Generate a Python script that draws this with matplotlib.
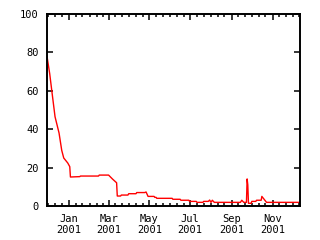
import numpy as np
import matplotlib
matplotlib.use("Agg")
import matplotlib.pyplot as plt
import matplotlib.dates as mdates
import pandas as pd

# values
dates = [
    "2000-11-29", "2000-12-03", "2000-12-06", "2000-12-11", "2000-12-17",
    "2000-12-21", "2000-12-24", "2000-12-30", "2001-01-02", "2001-01-03",
    "2001-01-17", "2001-01-18", "2001-02-14", "2001-02-15", "2001-03-01",
    "2001-03-07", "2001-03-13", "2001-03-14", "2001-03-19", "2001-03-20",
    "2001-03-30", "2001-03-31", "2001-04-11", "2001-04-12", "2001-04-24",
    "2001-04-26", "2001-04-29", "2001-05-08", "2001-05-09", "2001-05-11",
    "2001-05-12", "2001-06-04", "2001-06-05", "2001-06-16", "2001-06-17",
    "2001-06-29", "2001-06-30", "2001-07-10", "2001-07-11", "2001-07-20",
    "2001-07-21", "2001-07-28", "2001-07-30", "2001-08-01", "2001-08-03",
    "2001-08-06", "2001-09-14", "2001-09-16", "2001-09-19", "2001-09-23",
    "2001-09-24", "2001-09-25", "2001-09-26", "2001-09-30", "2001-10-01",
    "2001-10-07", "2001-10-08", "2001-10-15", "2001-10-16", "2001-10-23",
    "2001-12-12",
]
values = [
    78.0, 69.0, 60.5, 46.5, 38.0,
    29.0, 25.0, 22.4, 20.5, 15.1,
    15.3, 15.6, 15.6, 16.1, 16.1,
    14.0, 12.1, 5.2, 5.2, 5.7,
    5.7, 6.4, 6.4, 7.0, 7.0,
    7.3, 5.0, 5.0, 4.5, 4.5,
    4.0, 4.0, 3.5, 3.5, 3.0,
    3.0, 2.4, 2.4, 1.9, 1.9,
    2.4, 2.4, 3.1, 1.9, 3.0,
    1.9, 1.9, 3.0, 1.9, 1.9,
    14.1, 11.0, 1.4, 1.4, 2.4,
    2.4, 3.0, 3.0, 5.0, 1.9,
    1.9,
]
y_ticks = [0, 20, 40, 60, 80, 100]

x = pd.to_datetime(dates)

fig = plt.figure(figsize=(3.2, 2.4), dpi=100)
ax = fig.add_axes([47 / 320, 34 / 240, 253 / 320, 192 / 240])

ax.plot(x, values, color="red", linewidth=1.0)

ax.set_xlim(x[0], x[-1])
ax.set_ylim(0, 100)
ax.set_yticks(y_ticks)

ax.xaxis.set_major_locator(mdates.MonthLocator(bymonth=[1, 3, 5, 7, 9, 11]))
ax.xaxis.set_major_formatter(mdates.DateFormatter("%b\n%Y"))
ax.xaxis.set_minor_locator(mdates.DayLocator(bymonthday=[1, 11, 21]))

for s in ax.spines.values():
    s.set_linewidth(1.4)
ax.tick_params(which="both", direction="in", top=True, right=True, width=1.1,
               labelsize=7.5, pad=6)
ax.tick_params(which="major", length=4)
ax.tick_params(which="minor", length=2.5)
for lab in ax.get_xticklabels() + ax.get_yticklabels():
    lab.set_family("DejaVu Sans Mono")
    lab.set_linespacing(1.05)

fig.savefig("out.png", dpi=100)
